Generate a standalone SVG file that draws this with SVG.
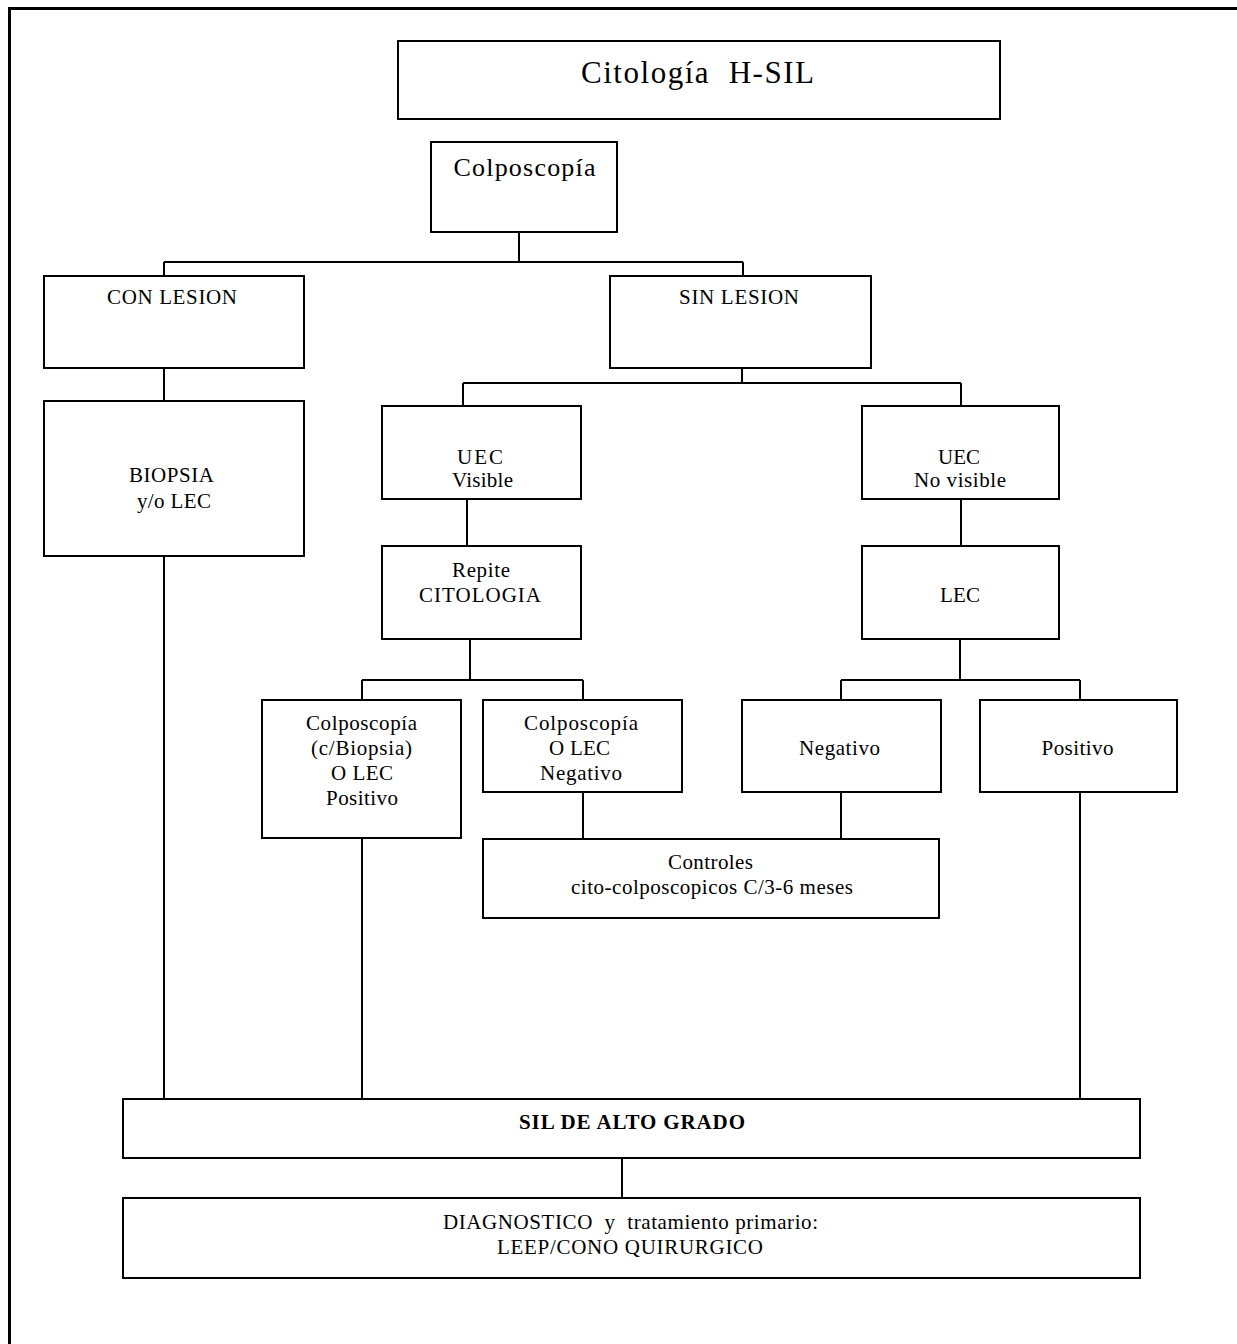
<svg xmlns="http://www.w3.org/2000/svg" width="1237" height="1344" viewBox="0 0 1237 1344">
  <style>
    .box { fill: #ffffff; stroke: #000000; stroke-width: 2; }
    .link { fill: none; stroke: #000000; stroke-width: 2; }
    text { font-family: "Liberation Serif", "Times New Roman", serif; font-size: 21px; fill: #000000; text-anchor: middle; white-space: pre; }
    .title { font-size: 31px; }
    .sub { font-size: 26px; }
    .bold { font-weight: bold; }
  </style>

  <rect x="0" y="0" width="1237" height="1344" fill="#ffffff"/>
  <!-- page frame: left and top edges -->
  <path d="M9.5 1344 V8.5 H1237" fill="none" stroke="#000000" stroke-width="3"/>

  <g id="connectors">
    <path class="link" d="M519 232 V262 M164 262 H743 M164 262 V277 M743 262 V277"/>
    <path class="link" d="M164 368 V401"/>
    <path class="link" d="M742 368 V383 M463 383 H961 M463 383 V407 M961 383 V407"/>
    <path class="link" d="M467 499 V546 M961 499 V546"/>
    <path class="link" d="M470 639 V680 M362 680 H583 M362 680 V700 M583 680 V700"/>
    <path class="link" d="M960 639 V680 M841 680 H1080 M841 680 V700 M1080 680 V700"/>
    <path class="link" d="M583 792 V839 M841 792 V839"/>
    <path class="link" d="M164 556 V1099 M362 838 V1099 M1080 792 V1099"/>
    <path class="link" d="M622 1158 V1198"/>
  </g>

  <g id="citologia-hsil">
    <rect class="box" x="398" y="41" width="602" height="78"/>
    <text class="title" x="697.5" y="83" textLength="233">Citología  H-SIL</text>
  </g>

  <g id="colposcopia">
    <rect class="box" x="431" y="142" width="186" height="90"/>
    <text class="sub" x="524.5" y="176" textLength="142">Colposcopía</text>
  </g>

  <g id="con-lesion">
    <rect class="box" x="44" y="276" width="260" height="92"/>
    <text x="172" y="304" textLength="130">CON LESION</text>
  </g>

  <g id="sin-lesion">
    <rect class="box" x="610" y="276" width="261" height="92"/>
    <text x="739" y="304" textLength="120">SIN LESION</text>
  </g>

  <g id="biopsia">
    <rect class="box" x="44" y="401" width="260" height="155"/>
    <text x="171.5" y="482" textLength="85">BIOPSIA</text>
    <text x="174" y="508" textLength="74">y/o LEC</text>
  </g>

  <g id="uec-visible">
    <rect class="box" x="382" y="406" width="199" height="93"/>
    <text x="480" y="464" textLength="46">UEC</text>
    <text x="482.5" y="487" textLength="61">Visible</text>
  </g>

  <g id="uec-no-visible">
    <rect class="box" x="862" y="406" width="197" height="93"/>
    <text x="959" y="464" textLength="42">UEC</text>
    <text x="960" y="487" textLength="92">No visible</text>
  </g>

  <g id="repite-citologia">
    <rect class="box" x="382" y="546" width="199" height="93"/>
    <text x="481" y="577" textLength="58">Repite</text>
    <text x="480" y="602" textLength="122">CITOLOGIA</text>
  </g>

  <g id="lec">
    <rect class="box" x="862" y="546" width="197" height="93"/>
    <text x="960" y="602" textLength="40">LEC</text>
  </g>

  <g id="colposcopia-positivo">
    <rect class="box" x="262" y="700" width="199" height="138"/>
    <text x="361.5" y="730" textLength="111">Colposcopía</text>
    <text x="361.5" y="755" textLength="101">(c/Biopsia)</text>
    <text x="362" y="780" textLength="62">O LEC</text>
    <text x="362" y="805" textLength="72">Positivo</text>
  </g>

  <g id="colposcopia-negativo">
    <rect class="box" x="483" y="700" width="199" height="92"/>
    <text x="581" y="730" textLength="114">Colposcopía</text>
    <text x="579.5" y="755" textLength="61">O LEC</text>
    <text x="581" y="780" textLength="82">Negativo</text>
  </g>

  <g id="lec-negativo">
    <rect class="box" x="742" y="700" width="199" height="92"/>
    <text x="839.5" y="755" textLength="81">Negativo</text>
  </g>

  <g id="lec-positivo">
    <rect class="box" x="980" y="700" width="197" height="92"/>
    <text x="1077.5" y="755" textLength="72">Positivo</text>
  </g>

  <g id="controles">
    <rect class="box" x="483" y="839" width="456" height="79"/>
    <text x="710.5" y="869" textLength="85">Controles</text>
    <text x="712" y="894" textLength="282">cito-colposcopicos C/3-6 meses</text>
  </g>

  <g id="sil-alto-grado">
    <rect class="box" x="123" y="1099" width="1017" height="59"/>
    <text class="bold" x="632" y="1129" textLength="226">SIL DE ALTO GRADO</text>
  </g>

  <g id="diagnostico">
    <rect class="box" x="123" y="1198" width="1017" height="80"/>
    <text x="630.5" y="1229" textLength="375">DIAGNOSTICO  y  tratamiento primario:</text>
    <text x="630" y="1254" textLength="266">LEEP/CONO QUIRURGICO</text>
  </g>
</svg>
